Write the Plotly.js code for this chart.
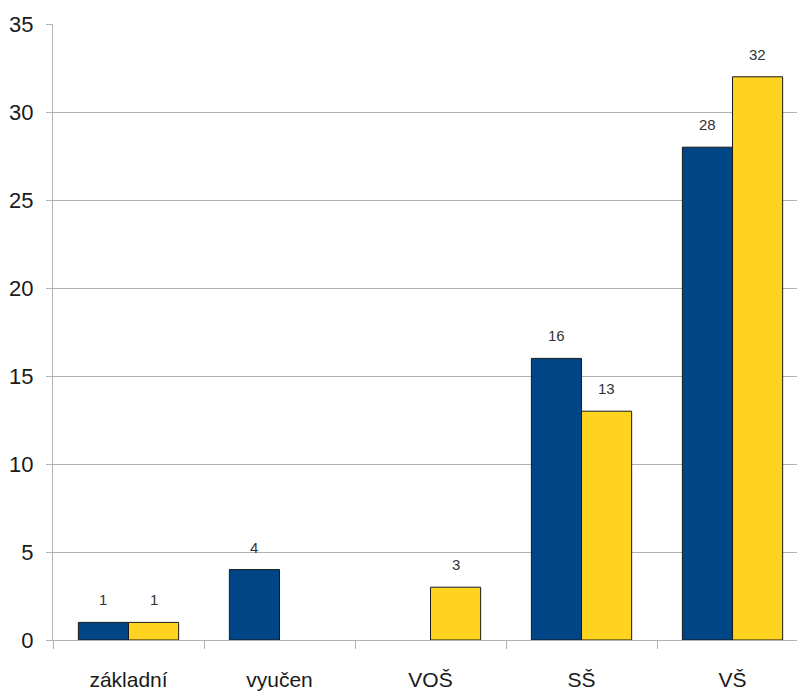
<!DOCTYPE html>
<html>
<head>
<meta charset="utf-8">
<script src="https://cdn.plot.ly/plotly-3.0.1.min.js"></script>
<style>html,body{margin:0;padding:0;background:#fff;}#chart{width:797px;height:695px;}</style>
</head>
<body>
<div id="chart"></div>
<script>
var categories = ["základní", "vyučen", "VOŠ", "SŠ", "VŠ"];
var seriesA = [1, 4, null, 16, 28];
var seriesB = [1, null, 3, 13, 32];
var yTicks = [0, 5, 10, 15, 20, 25, 30, 35];

var colorA = "#004586";
var colorB = "#ffd320";
var fontFam = "Liberation Sans, Arial, sans-serif";

var traces = [
  {type: "bar", x: categories, y: seriesA, marker: {color: colorA, line: {color: "#1a1a1a", width: 1}}, hoverinfo: "x+y"},
  {type: "bar", x: categories, y: seriesB, marker: {color: colorB, line: {color: "#1a1a1a", width: 1}}, hoverinfo: "x+y"}
];

var annotations = [];
function addLabels(vals, shift) {
  vals.forEach(function (v, i) {
    if (v === null) return;
    annotations.push({
      x: categories[i], y: v, xref: "x", yref: "y",
      text: String(v), showarrow: false, xshift: shift, yshift: 12,
      yanchor: "bottom",
      font: {family: fontFam, size: 15, color: "#333"}
    });
  });
}
addLabels(seriesA, -25.2);
addLabels(seriesB, 25.2);

var layout = {
  width: 797, height: 695,
  margin: {l: 53, r: 0, t: 24, b: 55},
  paper_bgcolor: "#fff", plot_bgcolor: "#fff",
  showlegend: false,
  barmode: "group",
  bargap: 0.336,
  bargroupgap: 0,
  font: {family: fontFam, color: "#1a1a1a"},
  xaxis: {
    type: "category",
    range: [-0.5, 4.427],
    tickson: "boundaries",
    ticks: "outside", ticklen: 8, tickcolor: "#b3b3b3", tickwidth: 1,
    showline: true, linecolor: "#b3b3b3", linewidth: 1,
    showgrid: false, zeroline: false,
    tickfont: {family: fontFam, size: 21, color: "#1a1a1a"},
    ticklabelstandoff: 21,
    fixedrange: true
  },
  yaxis: {
    range: [0, 35],
    tickvals: yTicks,
    ticktext: yTicks.map(String),
    ticks: "outside", ticklen: 6, tickcolor: "#b3b3b3", tickwidth: 1,
    showline: true, linecolor: "#b3b3b3", linewidth: 1,
    showgrid: true, gridcolor: "#b3b3b3", gridwidth: 1,
    zeroline: false,
    tickfont: {family: fontFam, size: 22, color: "#1a1a1a"},
    ticklabelstandoff: 8,
    fixedrange: true
  },
  annotations: annotations
};

Plotly.newPlot("chart", traces, layout, {displayModeBar: false, staticPlot: true});
</script>
</body>
</html>
